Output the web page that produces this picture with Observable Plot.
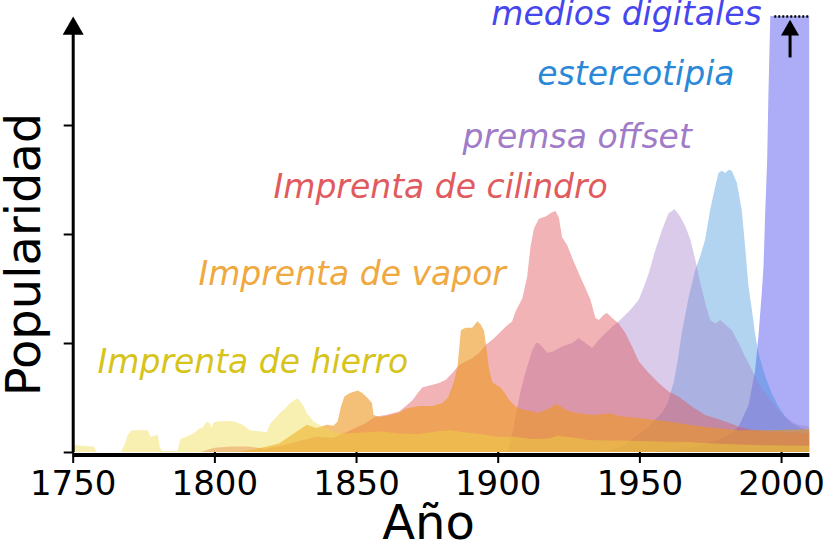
<!DOCTYPE html>
<html>
<head>
<meta charset="utf-8">
<script src="https://cdn.jsdelivr.net/npm/d3@7"></script>
<script src="https://cdn.jsdelivr.net/npm/@observablehq/plot@0.6"></script>
<style>
  html, body { margin: 0; padding: 0; background: #fff; }
  svg { display: block; font-family: "DejaVu Sans", sans-serif; }
</style>
</head>
<body>
<div id="chart"></div>
<script>
// ---- Data: [year, popularity] ----
const hierro = [
  [1750,0.07],[1752,0.06],[1757.5,0.05],[1758.5,0],[1767,0],[1768.5,0.08],[1769.5,0.16],[1771,0.2],
  [1776.5,0.2],[1777.5,0.14],[1779,0.15],[1780,0.16],[1780.7,0.05],[1781.5,0.01],[1787,0.01],[1788,0.12],
  [1790,0.14],[1792.6,0.17],[1794.5,0.21],[1796,0.23],[1797.4,0.28],[1798.5,0.26],[1799,0.22],[1799.7,0.27],
  [1801,0.28],[1804.5,0.285],[1807,0.28],[1810,0.25],[1812.4,0.2],[1816,0.19],[1818.5,0.18],[1819.7,0.26],
  [1821.5,0.31],[1823.2,0.36],[1825,0.4],[1826.7,0.45],[1829.3,0.49],[1830.2,0.47],[1831.5,0.42],[1832.5,0.36],
  [1835,0.28],[1837,0.25],[1839.5,0.22],[1842,0.18],[1845,0.17],[1853,0.18],[1858,0.19],[1865,0.17],
  [1872,0.165],[1879,0.19],[1883,0.2],[1889,0.18],[1895,0.16],[1900,0.14],[1906,0.14],[1912,0.12],
  [1918,0.125],[1921,0.15],[1926,0.135],[1932,0.11],[1938,0.105],[1945,0.105],[1950,0.1],[1959,0.095],
  [1965,0.095],[1971,0.085],[1983,0.07],[1994,0.062],[2010,0.058]
];
const vapor = [
  [1808,0],[1813,0.02],[1818.5,0.05],[1823,0.08],[1828,0.17],[1832.6,0.25],[1836,0.22],[1839.6,0.25],
  [1842,0.24],[1843.5,0.28],[1844.7,0.42],[1845.9,0.51],[1847.6,0.54],[1850.6,0.565],[1852.3,0.54],[1854.1,0.495],
  [1855.6,0.45],[1856.2,0.34],[1858.2,0.32],[1860.6,0.33],[1865.2,0.36],[1867.6,0.4],[1870,0.41],[1872.3,0.423],
  [1877,0.423],[1880.5,0.45],[1882.5,0.5],[1884.5,0.64],[1885.8,0.78],[1887,1.12],[1888.7,1.14],[1891,1.14],
  [1892.8,1.2],[1894,1.17],[1895.2,1.11],[1896.2,0.91],[1897,0.75],[1898.1,0.64],[1899.3,0.616],[1900.5,0.6],
  [1901.6,0.57],[1903,0.52],[1904,0.478],[1906.3,0.417],[1908.7,0.39],[1912.2,0.375],[1914.5,0.36],[1918,0.4],
  [1920.8,0.44],[1925.1,0.375],[1929.8,0.35],[1934.5,0.34],[1939.2,0.356],[1943.9,0.325],[1948.6,0.315],[1953.3,0.3],
  [1960.3,0.28],[1967.4,0.25],[1973.2,0.23],[1985,0.2],[1996.7,0.2],[2010,0.21]
];
const cilindro = [
  [1795,0],[1800,0.04],[1806,0.05],[1812,0.05],[1818,0.03],[1824,0.06],[1830,0.1],[1836,0.14],
  [1842,0.13],[1848,0.2],[1853,0.26],[1857,0.325],[1860.6,0.34],[1865.2,0.371],[1867.6,0.423],[1870,0.478],
  [1871.7,0.54],[1873.5,0.595],[1877,0.616],[1879.3,0.632],[1881.7,0.662],[1884,0.724],[1886.4,0.8],[1888.7,0.83],
  [1891,0.86],[1893.4,0.908],[1895.8,0.984],[1898.1,1.03],[1900.5,1.09],[1902.8,1.15],[1905.1,1.2],[1906.3,1.29],
  [1908.7,1.41],[1910.4,1.61],[1911.6,1.89],[1912.8,2.05],[1914.5,2.14],[1916.9,2.16],[1919.2,2.2],[1920.4,2.21],
  [1921.6,2.15],[1922.7,1.97],[1924.5,1.9],[1926.3,1.78],[1928.6,1.64],[1931,1.5],[1932.7,1.4],[1934.5,1.23],
  [1935.7,1.21],[1937.4,1.26],[1938.6,1.275],[1940.4,1.23],[1942.7,1.18],[1945.1,1.09],[1947.4,0.968],[1949.8,0.83],
  [1953.3,0.724],[1956.8,0.632],[1960.3,0.554],[1963.9,0.508],[1968.5,0.417],[1973.2,0.34],[1976.8,0.31],[1980.3,0.279],
  [1985,0.233],[1989.7,0.202],[1996.7,0.187],[2010,0.172]
];
const offset = [
  [1903.5,0],[1905,0.15],[1906.5,0.35],[1908,0.55],[1910,0.75],[1912,0.92],[1913.5,1.0],[1914.5,1.0],
  [1917.5,0.91],[1919.2,0.92],[1922.7,0.968],[1926.3,1.0],[1928.6,1.045],[1931,1.0],[1933.3,0.953],[1935.7,1.03],
  [1938,1.09],[1940.4,1.15],[1942.7,1.2],[1945.1,1.26],[1947.4,1.32],[1949.8,1.4],[1952.1,1.55],[1953.3,1.64],
  [1955.6,1.85],[1958,2.04],[1960.3,2.19],[1961.5,2.21],[1962.4,2.23],[1964.4,2.16],[1966.2,2.07],[1968,1.95],
  [1969.7,1.765],[1971.5,1.55],[1973.2,1.37],[1975,1.21],[1976.8,1.18],[1978.5,1.21],[1980.3,1.17],[1982.6,1.12],
  [1985,1.0],[1987.3,0.876],[1989.7,0.754],[1992,0.632],[1994.4,0.54],[1996.7,0.463],[1999,0.386],[2001.4,0.325],
  [2003.7,0.279],[2006.1,0.248],[2010,0.233]
];
const estereotipia = [
  [1935,0],[1940,0.02],[1943.9,0.05],[1948.6,0.14],[1953.3,0.233],[1958,0.36],[1960,0.45],[1962.2,0.65],
  [1963.6,0.85],[1965,1.1],[1967.4,1.42],[1969.7,1.67],[1971.5,1.8],[1973.2,1.95],[1975,2.225],[1976.8,2.44],
  [1977.9,2.56],[1979.1,2.58],[1980.3,2.56],[1981.5,2.59],[1982.6,2.58],[1984.4,2.47],[1986.1,2.225],[1987.3,1.89],
  [1988.5,1.52],[1989.7,1.306],[1990.8,1.09],[1992,0.908],[1994.4,0.692],[1996.7,0.54],[1999,0.417],[2001.4,0.325],
  [2003.7,0.264],[2007.3,0.218],[2010,0.2]
];
const digitales = [
  [1955,0],[1961.5,0.02],[1970.9,0.05],[1973.2,0.08],[1977.9,0.11],[1980.3,0.14],[1982.6,0.172],[1985,0.233],
  [1986.1,0.294],[1988.5,0.43],[1990.8,0.74],[1992,1.06],[1993.2,1.46],[1993.8,1.7],[1994.4,2.2],[1995.1,2.68],
  [1995.5,3.24],[1996.2,4.0],[1996.7,4.5],[1998,6],[2010,6]
];

const seriesNames = ["medios digitales", "estereotipia", "premsa offset", "Imprenta de cilindro", "Imprenta de vapor", "Imprenta de hierro"];
const seriesValues = [digitales, estereotipia, offset, cilindro, vapor, hierro];
const xTicks = [1750, 1800, 1850, 1900, 1950, 2000];
const yTicks = [0, 1, 2, 3];

// ---- Styles ----
const fills = ["#4848ee", "#2e8ad8", "#a07cc8", "#e0565c", "#ec961e", "#eeda3e"];
const opac  = [0.45, 0.37, 0.4, 0.45, 0.6, 0.41];
const textColors = ["#4646ee", "#2b88d8", "#a07cc8", "#e05a5e", "#f0a840", "#d6c41a"];
// label placement (year, value of baseline, anchor)
const labelPos = [
  {x: 1993, y: 3.925, anchor: "end"},
  {x: 1913.8, y: 3.37, anchor: "start"},
  {x: 1887.4, y: 2.795, anchor: "start"},
  {x: 1820.7, y: 2.336, anchor: "start"},
  {x: 1794.2, y: 1.536, anchor: "start"},
  {x: 1758.6, y: 0.726, anchor: "start"}
];
const labels = seriesNames.map((t, i) => ({text: t, color: textColors[i], ...labelPos[i]}));
const offScaleArrow = [{x: 2003, y1: 3.62, y2: 3.85, tip: 3.97, x1: 1997.6, x2: 2010, top: 4}];

const areaMarks = seriesValues.map((vals, i) =>
  Plot.areaY(vals, {x: d => d[0], y: d => d[1], fill: fills[i], fillOpacity: opac[i], curve: "linear", clip: true})
);
const labelOpts = {x: "x", y: "y", text: "text", fill: "color", lineAnchor: "bottom", fontStyle: "italic", fontSize: 33};

const chart = Plot.plot({
  width: 824,
  height: 544,
  marginLeft: 72.7,
  marginRight: 14.6,
  marginTop: 16,
  marginBottom: 92,
  style: {fontFamily: "DejaVu Sans, sans-serif", background: "white", overflow: "visible"},
  x: {domain: [1750, 2010], axis: null},
  y: {domain: [0, 4], axis: null},
  marks: [
    ...areaMarks,
    // dotted line and arrow showing values beyond the top
    Plot.ruleY(offScaleArrow, {y: "top", x1: "x1", x2: "x2", stroke: "black", strokeWidth: 2.5, strokeDasharray: "2 2"}),
    Plot.ruleX(offScaleArrow, {x: "x", y1: "y1", y2: "y2", stroke: "black", strokeWidth: 3}),
    Plot.dot(offScaleArrow, {x: "x", y: "tip", symbol: "triangle", r: 6.7, fill: "black", stroke: null, dy: 10.4}),
    // axes
    Plot.axisX({ticks: xTicks, tickSize: 11, tickPadding: 7, strokeWidth: 2, fontSize: 34, tickFormat: d => String(d), label: null, fill: "black"}),
    Plot.axisY({ticks: yTicks, tickSize: 9, strokeWidth: 2, tickFormat: () => "", label: null}),
    Plot.ruleY([0], {stroke: "black", strokeWidth: 4, dy: 2.5}),
    Plot.ruleX([1750], {y1: 0, y2: 3.85, stroke: "black", strokeWidth: 3}),
    Plot.dot([1750], {x: d => d, y: () => 4, symbol: "triangle", r: 7.8, fill: "black", stroke: null, dy: 12.1}),
    // series labels
    Plot.text(labels.filter(d => d.anchor === "start"), {...labelOpts, textAnchor: "start"}),
    Plot.text(labels.filter(d => d.anchor === "end"), {...labelOpts, textAnchor: "end"}),
    // axis titles
    Plot.text(["Año"], {frameAnchor: "bottom", lineAnchor: "bottom", textAnchor: "middle", dx: -13, dy: 86, fontSize: 48, fill: "black"}),
    Plot.text(["Popularidad"], {frameAnchor: "left", rotate: -90, lineAnchor: "bottom", textAnchor: "middle", dx: -32.7, dy: 20, fontSize: 48, fill: "black"})
  ]
});
document.getElementById("chart").appendChild(chart);
</script>
</body>
</html>
